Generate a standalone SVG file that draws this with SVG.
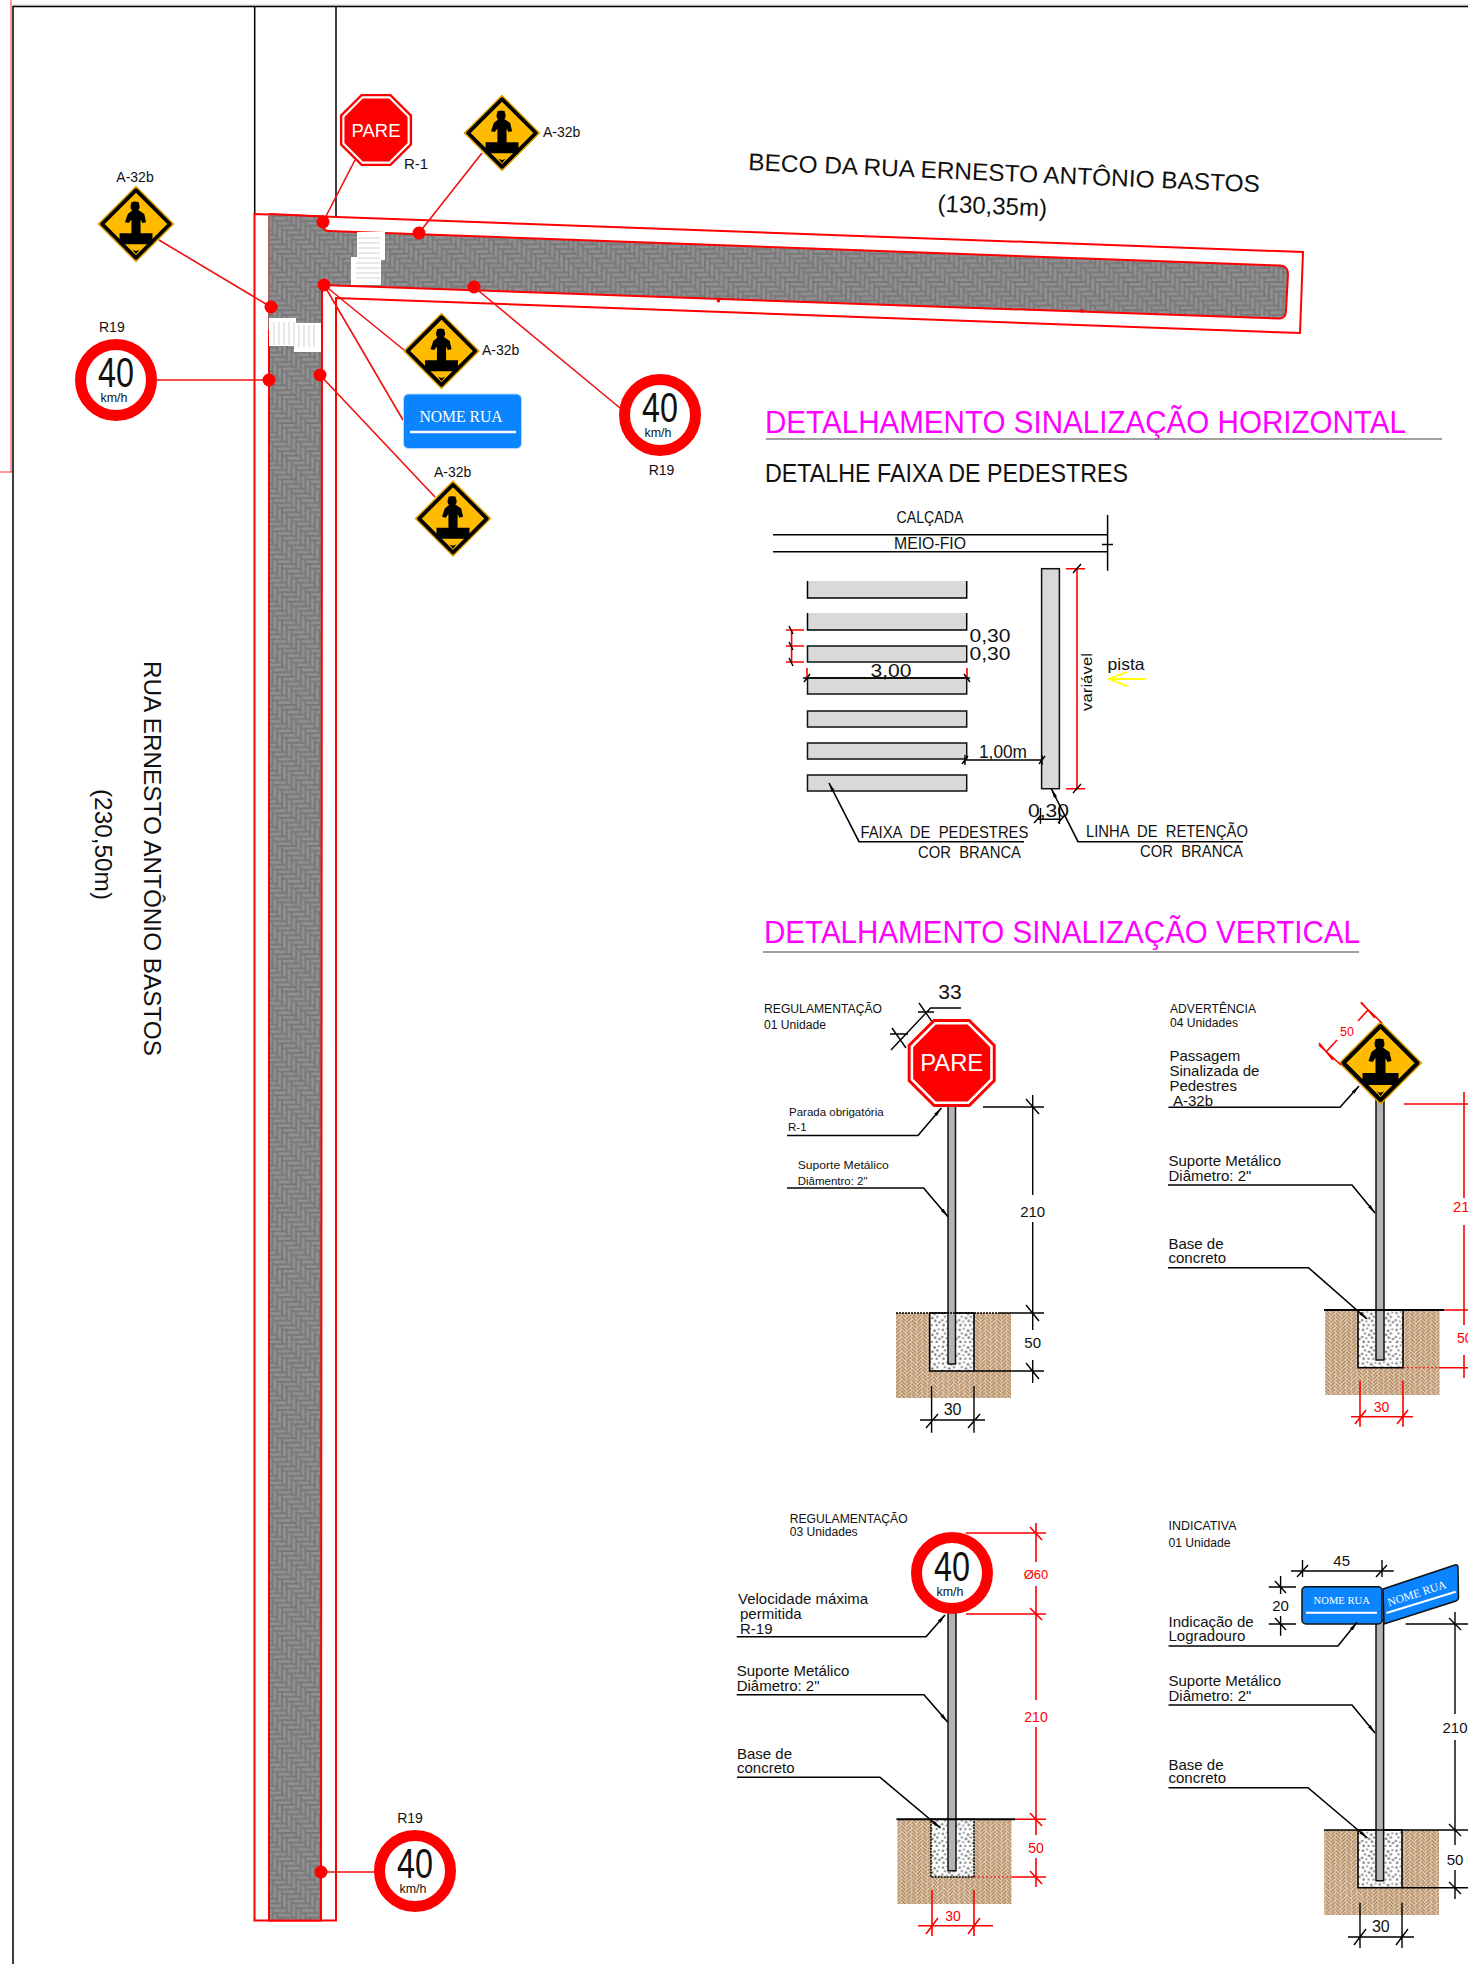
<svg xmlns="http://www.w3.org/2000/svg" width="1468" height="1964" viewBox="0 0 1468 1964">
<style>
text{font-family:"Liberation Sans",Arial,sans-serif;fill:#111}
.s11{font-size:11.5px}.s12{font-size:12.5px}.s14{font-size:14px}.s15{font-size:15px}.s16{font-size:16px}
.red{fill:#ff0000}.m{text-anchor:middle}
.serif{font-family:"Liberation Serif","Times New Roman",serif;fill:#fff}
.cad{font-family:"Liberation Sans",Arial,sans-serif;font-size:16.5px;white-space:pre}
.ln{fill:none;stroke:#000;stroke-width:1.5}
.lb{fill:none;stroke:#000;stroke-width:1.6;marker-end:url(#ah)}
.rd{fill:none;stroke:#f00;stroke-width:1.6}
.tk{fill:none;stroke:#000;stroke-width:1.4}
.cn{fill:none;stroke:#f01010;stroke-width:1.6}
.dot{fill:#f00}
.bar{fill:#d9d9d9;stroke:#111;stroke-width:1.5}
.pole{fill:#b3b3b3;stroke:#111;stroke-width:1.5}
.soil{fill:url(#soil)}.conc{fill:url(#conc);stroke:#000;stroke-width:1.6}
</style>
<defs>
<marker id="ah" markerWidth="10" markerHeight="6" refX="9" refY="2.5" orient="auto" markerUnits="userSpaceOnUse"><path d="M0,0.8L9.5,2.5L0,4.2Z" fill="#000"/></marker>
<path id="hb" d="M.2.2h2.6v.6h-2.6zM1.2 1.2h2.6v.6h-2.6zM2.2 2.2h2.6v.6h-2.6zM3.2 3.2h2.6v.6h-2.6zM4.2 4.2h2.6v.6h-2.6zM5.2 5.2h2.6v.6h-2.6zM-1.8 4.2h2.6v.6h-2.6zM-.8 5.2h2.6v.6h-2.6zM3.2-1.8h.6v2.6h-.6zM3.2 4.2h.6v2.6h-.6zM4.2-.8h.6v2.6h-.6zM4.2 5.2h.6v2.6h-.6zM5.2.2h.6v2.6h-.6zM.2 1.2h.6v2.6h-.6zM1.2 2.2h.6v2.6h-.6zM2.2 3.2h.6v2.6h-.6z"/>
<pattern id="pave" width="28.2" height="28.2" patternUnits="userSpaceOnUse"><rect width="28.2" height="28.2" fill="#787878"/><use href="#hb" transform="scale(4.7)" fill="#909092"/></pattern>
<pattern id="soil" width="15" height="15" patternUnits="userSpaceOnUse" patternTransform="rotate(45)"><rect width="15" height="15" fill="#e9dac4"/><use href="#hb" transform="scale(2.5)" fill="#b0845a"/></pattern>
<pattern id="conc" width="24" height="24" patternUnits="userSpaceOnUse" patternTransform="scale(.7)"><rect width="24" height="24" fill="#fff"/><g fill="#808080"><circle cx="3" cy="4" r="1.8"/><circle cx="9" cy="2" r="1.4"/><circle cx="15" cy="5" r="2"/><circle cx="21" cy="3" r="1.4"/><circle cx="6" cy="9" r="1.6"/><circle cx="12" cy="11" r="2"/><circle cx="19" cy="9" r="1.7"/><circle cx="2" cy="14" r="1.7"/><circle cx="8" cy="16" r="1.4"/><circle cx="16" cy="15" r="1.8"/><circle cx="22" cy="17" r="1.7"/><circle cx="4" cy="21" r="1.8"/><circle cx="11" cy="21" r="1.6"/><circle cx="18" cy="21" r="1.7"/></g></pattern>
<g id="dia">
<path d="M0,-41L41,0L0,41L-41,0Z" fill="#e0a000" stroke="#e0a000" stroke-width="1.5" stroke-linejoin="round"/>
<path d="M0,-37L37,0L0,37L-37,0Z" fill="#ffbb00" stroke="#000" stroke-width="4" stroke-linejoin="round"/>
<ellipse cx="-1" cy="-19" rx="5" ry="5.5" fill="#000"/><path d="M-5,-24h8v2h-8z" fill="#000"/>
<path d="M-4,-15L-9,-11L-12,-2L-8,-1L-5,-5L-5,11L5,11L5,-5L7,-1L11,-2L9,-11L3,-15Z" fill="#000"/>
<path d="M-18,10H18V22H-18Z" fill="#000"/><path d="M-4,28Q0,31 4,28L0,33Z" fill="#000"/>
</g>
<g id="stop">
<path d="M-18.2,-44H18.2L44,-18.2V18.2L18.2,44H-18.2L-44,18.2V-18.2Z" fill="#f00"/>
<path d="M-16.4,-39.8H16.4L39.8,-16.4V16.4L16.4,39.8H-16.4L-39.8,16.4V-16.4Z" fill="#f00" stroke="#fff" stroke-width="2.6"/>
</g>
<circle id="ring" r="35.5" fill="#fff" stroke="#f00" stroke-width="11"/>
</defs>

<g id="frame">
<path d="M13,5H1468" fill="none" stroke="#ccc" stroke-width="1"/>
<path d="M11,0V472M0,472H12" fill="none" stroke="#f00" stroke-width=".8"/>
<path d="M13,1964V6.500H1468" class="ln"/>
<path d="M254.700,6.500V214M336,6.500V217" class="ln"/>
</g>

<g id="road">
<path d="M254.500,1920.500V214L1303,252L1300,333L336,298V1920.500Z" fill="none" stroke="#f00" stroke-width="2"/>
<path d="M269,214L323,216.500V226Q324,231 329,231L1280,265.500Q1288,266 1288,274L1286,311Q1286,319 1278,318.500L322,285L321,1920.500H269Z" fill="url(#pave)" stroke="#f00" stroke-width="2"/>
<path d="M269,330V214" stroke="#888" stroke-width="1.500" fill="none"/>
</g>
<g id="crosswalk-beco">
<path d="M357,232H385V260H381V285H351V257H357Z" fill="#fff"/>
<path d="M358,238H380M358,243H380M358,248H380M358,253H380M358,258H380M356,263H380M356,268H380M356,273H380M356,278H380" stroke="#bbb" stroke-width=".7" fill="none"/>
</g>
<g id="crosswalk-rua">
<path d="M269,318H296V323H321V352H294V346H269Z" fill="#fff"/>
<path d="M274,322V345M279,322V345M284,322V345M289,322V345M294,322V345M299,325V347M304,325V347M309,325V347M314,325V347" stroke="#bbb" stroke-width=".7" fill="none"/>
</g>

<g id="connectors">
<path class="cn" d="M323,222L355,160M419,233L482,153M271,307L159,240M269,380H157M324,285L404,350M324,285L403,420M320,375L435,497M474,287L620,408M321,1872H376"/>
<circle class="dot" cx="323" cy="222" r="6.500"/><circle class="dot" cx="419" cy="233" r="6.500"/><circle class="dot" cx="324" cy="285" r="6.500"/><circle class="dot" cx="474" cy="287" r="6.500"/><circle class="dot" cx="271" cy="307" r="6.500"/><circle class="dot" cx="269" cy="380" r="6.500"/><circle class="dot" cx="320" cy="375" r="6.500"/><circle class="dot" cx="321" cy="1872" r="6.500"/><circle class="dot" cx="718.500" cy="300.800" r="1.800"/><circle class="dot" cx="1082" cy="311" r="1.800"/>
</g>

<g id="sign-r1"><use href="#stop" transform="translate(376,130) scale(.82)"/><text x="376" y="137" class="m" font-size="18.500" textLength="49" lengthAdjust="spacingAndGlyphs" style="fill:#fff">PARE</text><text x="404" y="169" class="s15">R-1</text></g>
<g id="sign-a32-top"><use href="#dia" transform="translate(502,133) scale(.915)"/><text x="543" y="137" class="s14">A-32b</text></g>
<g id="sign-a32-left"><use href="#dia" transform="translate(136,224) scale(.915)"/><text x="135" y="182" class="s14 m">A-32b</text></g>
<g id="sign-a32-mid"><use href="#dia" transform="translate(441.500,351) scale(.915)"/><text x="482" y="355" class="s14">A-32b</text></g>
<g id="sign-a32-low"><use href="#dia" transform="translate(453,518.600) scale(.915)"/><text x="452.700" y="477" class="s14 m">A-32b</text></g>
<g id="sign-r19-left"><use href="#ring" x="116" y="380"/><text x="116" y="387" class="m" font-size="42" textLength="36" lengthAdjust="spacingAndGlyphs">40</text><text x="114" y="402" class="m" font-size="13" textLength="27" lengthAdjust="spacingAndGlyphs">km/h</text><text x="99" y="332" class="s14">R19</text></g>
<g id="sign-r19-right"><use href="#ring" x="660" y="415"/><text x="660" y="422" class="m" font-size="42" textLength="36" lengthAdjust="spacingAndGlyphs">40</text><text x="658" y="437" class="m" font-size="13" textLength="27" lengthAdjust="spacingAndGlyphs">km/h</text><text x="661.500" y="474.500" class="s14 m">R19</text></g>
<g id="sign-r19-bottom"><use href="#ring" x="415" y="1871"/><text x="415" y="1878" class="m" font-size="42" textLength="36" lengthAdjust="spacingAndGlyphs">40</text><text x="413" y="1893" class="m" font-size="13" textLength="27" lengthAdjust="spacingAndGlyphs">km/h</text><text x="410" y="1823" class="s14 m">R19</text></g>
<g id="sign-nome"><rect x="403.500" y="394" width="118" height="54.500" rx="5" fill="#0a84ff" stroke="#b6d8ff" stroke-width="1"/><text x="461" y="422" class="serif m" font-size="15.700">NOME RUA</text><path d="M410,432H516" stroke="#fff" stroke-width="2.500"/></g>

<g id="street-labels">
<text transform="translate(748,170) rotate(2.500)" font-size="24" textLength="512" lengthAdjust="spacingAndGlyphs">BECO DA RUA ERNESTO ANTÔNIO BASTOS</text>
<text transform="translate(992,214) rotate(2.500)" font-size="24" class="m">(130,35m)</text>
<text transform="translate(144,661) rotate(90)" font-size="24" textLength="395" lengthAdjust="spacingAndGlyphs">RUA ERNESTO ANTÔNIO BASTOS</text>
<text transform="translate(95,789) rotate(90)" font-size="24" textLength="111" lengthAdjust="spacingAndGlyphs">(230,50m)</text>
</g>

<g id="title-horizontal"><text x="765" y="433" font-size="31" style="fill:#ff00ff" textLength="641" lengthAdjust="spacingAndGlyphs">DETALHAMENTO SINALIZAÇÃO HORIZONTAL</text><path d="M766,439H1442" stroke="#808080" stroke-width="1.500"/></g>
<g id="title-vertical"><text x="764" y="943" font-size="31" style="fill:#ff00ff" textLength="596" lengthAdjust="spacingAndGlyphs">DETALHAMENTO SINALIZAÇÃO VERTICAL</text><path d="M763,952H1359" stroke="#808080" stroke-width="1.500"/></g>

<g id="detail-crosswalk">
<text x="765" y="482" font-size="25" textLength="363" lengthAdjust="spacingAndGlyphs">DETALHE FAIXA DE PEDESTRES</text>
<text x="930" y="523" class="cad m" textLength="67" lengthAdjust="spacingAndGlyphs">CALÇADA</text>
<text x="930" y="549" class="cad m" textLength="72" lengthAdjust="spacingAndGlyphs">MEIO-FIO</text>
<path class="ln" d="M773,534.700H1107.600M773,551.700H1107.600M1107.600,515V570.700M1102,544.500H1113"/>
<path d="M807.500,581H966.700V598H807.500Z M807.500,613H966.700V630H807.500Z" fill="#d9d9d9"/>
<path class="ln" d="M807.500,581V598H966.700V581M807.500,613V630H966.700V613"/>
<rect class="bar" x="807.500" y="646" width="159.200" height="16"/><rect class="bar" x="807.500" y="678" width="159.200" height="16"/><rect class="bar" x="807.500" y="711" width="159.200" height="16"/><rect class="bar" x="807.500" y="743" width="159.200" height="16"/><rect class="bar" x="807.500" y="775" width="159.200" height="16"/>
<rect class="bar" x="1041.600" y="568.700" width="17.800" height="220"/>
<path class="rd" d="M1077,568.700V788.700M1066,568.700H1085M1066,788.700H1085M786,630H804M786,646H804M786,662H804M791.600,630V662M807,668V679M967,668V679"/>
<path class="tk" d="M1073,573L1081,564M1073,793L1081,784M789,626L793,634M789,642L793,650M789,658L793,666M804,682L810,674M964,674L970,682M803,678H970"/>
<text transform="translate(1092,711) rotate(-90)" class="s14" textLength="58" lengthAdjust="spacingAndGlyphs">variável</text>
<text x="1107.600" y="670" class="cad" textLength="37" lengthAdjust="spacingAndGlyphs">pista</text>
<path d="M1145,679H1109M1127,672L1109,679L1127,686" fill="none" stroke="#ffff00" stroke-width="1.800"/>
<text x="969.500" y="642" font-size="18" textLength="41" lengthAdjust="spacingAndGlyphs">0,30</text>
<text x="969.500" y="659.500" font-size="18" textLength="41" lengthAdjust="spacingAndGlyphs">0,30</text>
<text x="891" y="677" font-size="18" class="m" textLength="41" lengthAdjust="spacingAndGlyphs">3,00</text>
<text x="979" y="757.700" font-size="18" textLength="48" lengthAdjust="spacingAndGlyphs">1,00m</text>
<path class="tk" d="M965,760H1042M962,764L968,756M1039,764L1045,756M965,755V765M1042,755V765"/>
<text x="1028" y="816.700" font-size="18" textLength="41" lengthAdjust="spacingAndGlyphs">0,30</text>
<path class="tk" d="M1037,819.300H1062M1034,823L1041,815M1058,823L1065,815M1040.500,808V824M1059.500,808V824"/>
<path class="lb" d="M1024,841.700H859L829,783"/>
<path class="lb" d="M1243,841.700H1078L1051.400,789"/>
<text x="860.400" y="838" class="cad" textLength="168" lengthAdjust="spacingAndGlyphs">FAIXA  DE  PEDESTRES</text>
<text x="918" y="858" class="cad" textLength="103" lengthAdjust="spacingAndGlyphs">COR  BRANCA</text>
<text x="1086" y="836.700" class="cad" textLength="162" lengthAdjust="spacingAndGlyphs">LINHA  DE  RETENÇÃO</text>
<text x="1140" y="856.700" class="cad" textLength="103" lengthAdjust="spacingAndGlyphs">COR  BRANCA</text>
</g>

<g id="detail-pare">
<text x="764" y="1012.700" class="s12" textLength="118" lengthAdjust="spacingAndGlyphs">REGULAMENTAÇÃO</text>
<text x="764" y="1029" class="s12" textLength="62" lengthAdjust="spacingAndGlyphs">01 Unidade</text>
<text x="950" y="999" class="m" font-size="21">33</text>
<path class="tk" d="M891,1050L930.600,1008H961M892,1028L906,1048M919,1003L933,1023M890,1034H908M918,1012H934"/>
<rect class="soil" x="896" y="1313" width="115" height="85"/>
<rect class="conc" x="929.700" y="1313" width="44.300" height="58"/>
<path class="pole" d="M948,1100V1364H955.500V1100Z"/>
<path d="M896,1313H998" stroke="#000" stroke-width="1.500" stroke-dasharray="2 1" fill="none"/>
<use href="#stop" transform="translate(951.700,1063)"/>
<text x="951.700" y="1071" class="m" font-size="24" textLength="63" lengthAdjust="spacingAndGlyphs" style="fill:#fff">PARE</text>
<path class="tk" d="M1032.700,1095V1195M1032.700,1222V1330M1032.700,1360V1383M983,1107H1044M998,1313H1044M974,1371H1044M1026,1099L1039,1114M1026,1305L1039,1321M1026,1363L1039,1379"/>
<text x="1032.700" y="1216.700" class="s15 m">210</text><text x="1032.700" y="1348" class="s15 m">50</text>
<path class="tk" d="M931.600,1386V1432.700M974,1386V1432.700M920,1420H985M926,1428L938,1414M968,1428L980,1414"/>
<text x="952.600" y="1415" class="s16 m">30</text>
<text x="789" y="1116" class="s11">Parada obrigatória</text><text x="788" y="1131" class="s11">R-1</text>
<path class="lb" d="M787,1135.500H918L941.400,1108"/>
<text x="797.700" y="1169" class="s11" textLength="91" lengthAdjust="spacingAndGlyphs">Suporte Metálico</text><text x="797.700" y="1185" class="s11">Diâmentro: 2"</text>
<path class="lb" d="M787,1188H923.600L948,1216.700"/>
</g>

<g id="detail-a32">
<text x="1170" y="1012.700" class="s12" textLength="86" lengthAdjust="spacingAndGlyphs">ADVERTÊNCIA</text>
<text x="1170" y="1026.700" class="s12" textLength="68" lengthAdjust="spacingAndGlyphs">04 Unidades</text>
<rect class="soil" x="1325" y="1310" width="114.500" height="85"/>
<rect class="conc" x="1358" y="1310" width="45" height="57.700"/>
<path class="pole" d="M1376,1095V1360H1384V1095Z"/>
<path d="M1324,1310H1444" stroke="#000" stroke-width="2" fill="none"/>
<use href="#dia" transform="translate(1380.500,1063)"/>
<text x="1169.400" y="1061" class="s15">Passagem</text><text x="1169.400" y="1075.700" class="s15">Sinalizada de</text><text x="1169.400" y="1090.700" class="s15">Pedestres</text><text x="1173" y="1105.700" class="s15">A-32b</text>
<path class="lb" d="M1168.500,1107.300H1340L1359,1086"/>
<path class="rd" d="M1341,1065L1319,1045M1382,1023L1361,1003M1326,1052L1337,1040M1358,1021L1368,1010M1319,1043L1333,1060M1361,1002L1375,1018"/>
<text x="1347" y="1036" class="m red" font-size="12.500">50</text>
<path class="rd" d="M1404,1104H1468M1464,1092V1198M1464,1225V1325M1464,1355V1378M1444,1310H1468M1439,1367.700H1468M1360,1380.700V1426.700M1403,1380.700V1426.700M1351,1416.700H1413M1355,1424L1366,1410M1397,1424L1408,1410"/>
<path d="M1403,1367.700H1439" stroke="#f00" stroke-dasharray="2 2" fill="none"/>
<text x="1453" y="1211.700" class="s15 red">210</text><text x="1457" y="1343" class="s14 red">50</text><text x="1381.500" y="1412" class="s14 m red">30</text>
<text x="1168.500" y="1165.700" class="s15">Suporte Metálico</text><text x="1168.500" y="1181" class="s15">Diâmetro: 2"</text>
<path class="lb" d="M1168,1185H1352L1375,1213"/>
<text x="1168.500" y="1249" class="s15">Base de</text><text x="1168.500" y="1262.700" class="s15">concreto</text>
<path class="lb" d="M1168,1267.700H1308.500L1367,1319"/>
</g>

<g id="detail-r19">
<text x="789.700" y="1522.700" class="s12" textLength="118" lengthAdjust="spacingAndGlyphs">REGULAMENTAÇÃO</text>
<text x="789.700" y="1535.700" class="s12" textLength="68" lengthAdjust="spacingAndGlyphs">03 Unidades</text>
<rect class="soil" x="897.500" y="1819.300" width="114" height="84.700"/>
<rect class="conc" x="931" y="1819.300" width="43" height="57.700" stroke-dasharray="2 1"/>
<path class="pole" d="M948,1612V1870.700H956V1612Z"/>
<path d="M896.500,1819.300H1015" stroke="#000" stroke-width="2" fill="none"/>
<use href="#ring" x="952" y="1573"/>
<text x="952" y="1580.700" class="m" font-size="42" textLength="36" lengthAdjust="spacingAndGlyphs">40</text><text x="950" y="1595.700" class="m" font-size="13" textLength="27" lengthAdjust="spacingAndGlyphs">km/h</text>
<path class="rd" d="M965.700,1533H1046M966,1614H1046M1036,1523V1562M1036,1586V1700M1036,1727V1835M1036,1858V1887M1015,1819.300H1046M1012,1877H1046M932,1890V1936M974,1890V1936M918,1925.700H993M926,1934L938,1918M968,1934L980,1918M1030,1527L1042,1540M1030,1608L1042,1620M1030,1813L1042,1826M1030,1871L1042,1884"/>
<path d="M974,1877H1012" stroke="#f00" stroke-dasharray="2 2" fill="none"/>
<text x="1036" y="1579" class="m red" font-size="13">Ø60</text><text x="1036" y="1722" class="m s14 red">210</text><text x="1036" y="1853" class="m s14 red">50</text><text x="953" y="1921" class="m s14 red">30</text>
<text x="738" y="1604" class="s15">Velocidade máxima</text><text x="740" y="1619" class="s15">permitida</text><text x="740" y="1634" class="s15">R-19</text>
<path class="lb" d="M736.700,1636.700H926L945,1615"/>
<text x="736.700" y="1676" class="s15">Suporte Metálico</text><text x="736.700" y="1691" class="s15">Diâmetro: 2"</text>
<path class="lb" d="M736.700,1694.700H924L947.600,1722"/>
<text x="737" y="1759" class="s15">Base de</text><text x="737" y="1773" class="s15">concreto</text>
<path class="lb" d="M737,1777.300H880L940.400,1828"/>
</g>

<g id="detail-indicativa">
<text x="1168.500" y="1530" class="s12" textLength="68" lengthAdjust="spacingAndGlyphs">INDICATIVA</text>
<text x="1168.500" y="1546.700" class="s12" textLength="62" lengthAdjust="spacingAndGlyphs">01 Unidade</text>
<rect class="soil" x="1324" y="1830" width="115" height="85"/>
<rect class="conc" x="1358" y="1830" width="44" height="57.700"/>
<path class="pole" d="M1376,1620V1880.700H1383.600V1620Z"/>
<path d="M1324,1830H1468" stroke="#000" stroke-width="1.500" fill="none"/>
<rect x="1302" y="1586.700" width="80" height="37.300" rx="4" fill="#0a84ff" stroke="#111" stroke-width="1.500"/>
<path d="M1383,1589L1455,1565Q1458,1564 1458,1568L1458.500,1598Q1458.500,1600 1456,1601L1384,1624Z" fill="#0a84ff" stroke="#111" stroke-width="1.500"/>
<text x="1341.700" y="1604" class="serif m" font-size="10.600">NOME RUA</text>
<text transform="translate(1418,1597) rotate(-18)" class="serif m" font-size="11.500">NOME RUA</text>
<path d="M1306,1612.700H1377M1386.500,1613L1455.700,1591.700" stroke="#fff" stroke-width="2" fill="none"/>
<path class="tk" d="M1291,1571H1393.700M1302.500,1560V1577M1382,1560V1577M1297,1577L1308,1565M1376,1577L1387,1565M1280.600,1576V1594M1280.600,1616V1635.700M1268.700,1587H1296M1268.700,1624H1296M1275,1581L1286,1593M1275,1618L1286,1630"/>
<text x="1341.700" y="1566" class="s15 m">45</text><text x="1280.600" y="1610.700" class="s15 m">20</text>
<text x="1168.500" y="1626.700" class="s15">Indicação de</text><text x="1168.500" y="1641" class="s15">Logradouro</text>
<path class="lb" d="M1168.500,1646H1338L1357,1622.300"/>
<path class="tk" d="M1405.600,1624H1468M1455,1612V1714M1455,1740V1845M1455,1870V1899M1402,1887.700H1468M1449,1618L1461,1630M1449,1824L1461,1836M1449,1882L1461,1894"/>
<text x="1455" y="1733" class="s15 m">210</text><text x="1455" y="1865" class="s15 m">50</text>
<path class="tk" d="M1360,1902.700V1948M1402,1902.700V1948M1348,1937H1414M1354,1945L1366,1929M1396,1945L1408,1929"/>
<text x="1380.800" y="1931.700" class="s16 m">30</text>
<text x="1168.500" y="1686" class="s15">Suporte Metálico</text><text x="1168.500" y="1701" class="s15">Diâmetro: 2"</text>
<path class="lb" d="M1168.500,1705H1352L1375,1733"/>
<text x="1168.500" y="1770" class="s15">Base de</text><text x="1168.500" y="1783" class="s15">concreto</text>
<path class="lb" d="M1168.500,1787.700H1308L1367.400,1838"/>
</g>
</svg>
